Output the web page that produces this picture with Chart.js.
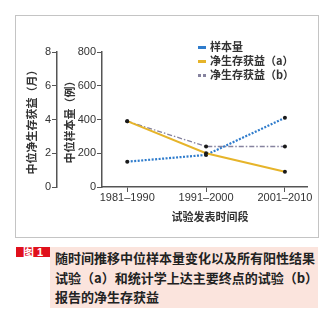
<!DOCTYPE html>
<html>
<head>
<meta charset="utf-8">
<script src="https://cdn.jsdelivr.net/npm/chart.js@4"></script>
<style>
  body { margin: 0; width: 334px; height: 323px; background: #fff; position: relative; overflow: hidden; }
  #frame { position: absolute; left: 15px; top: 15px; width: 304px; height: 223px; box-sizing: border-box; border: 1px solid #c4c4c4; }
  #chart { position: absolute; left: 0; top: 0; }
  #legend { position: absolute; left: 198px; top: 39px; font: bold 11px "Noto Sans CJK SC", sans-serif; color: #333; }
  #legend div { height: 14px; line-height: 14px; white-space: nowrap; }
  #legend span.mark { display: inline-block; width: 8px; height: 3px; margin-right: 4px; vertical-align: middle; position: relative; top: -1px; }
  #tag { position: absolute; left: 16px; top: 247px; width: 34px; height: 10px; background: #e0101c; color: #fff;
         font: bold 11px "Liberation Sans", "Noto Sans CJK SC", sans-serif; line-height: 10px; text-align: center; }
  #caption { position: absolute; left: 50px; top: 247px; width: 268px; height: 61px; box-sizing: border-box; background: #fbe4dd;
             padding: 1px 0 0 5px; font: bold 13px "Noto Sans CJK SC", sans-serif; line-height: 19.5px; color: #222; white-space: nowrap; }
</style>
</head>
<body>
<div id="frame"></div>
<canvas id="chart" width="334" height="240"></canvas>
<div id="legend"></div>
<div id="tag">图 1</div>
<div id="caption">随时间推移中位样本量变化以及所有阳性结果<br>试验（a）和统计学上达主要终点的试验（b）<br>报告的净生存获益</div>
<script>
// data
var periods = ["1981–1990", "1991–2000", "2001–2010"];
var sampleSize = [150, 190, 410];      // 例
var netBenefitA = [3.9, 2.0, 0.9];     // 月
var netBenefitB = [3.9, 2.4, 2.4];     // 月
var monthTicks = [0, 2, 4, 6, 8];
var sampleTicks = [0, 200, 400, 600, 800];

var blue = "#2f7ccc", yellow = "#e6b42a", grey = "#86839f";
var axisColor = "#555", dot = "#1a1a1a";
var cjk = "'Noto Sans CJK SC', sans-serif";

function pts(arr) { return arr.map(function (v, i) { return { x: i, y: v }; }); }

function series(label, values, axis, color, width, dash) {
  return {
    label: label,
    data: pts(values),
    yAxisID: axis,
    borderColor: color,
    backgroundColor: color,
    borderWidth: width,
    borderDash: dash,
    pointRadius: 2,
    pointBackgroundColor: dot,
    pointBorderColor: dot,
    pointBorderWidth: 0,
    fill: false
  };
}

var chart = new Chart(document.getElementById("chart"), {
  type: 'line',
  data: {
    datasets: [
      series("净生存获益（a）", netBenefitA, 'yMonths', yellow, 2, []),
      series("净生存获益（b）", netBenefitB, 'yMonths', grey, 1.3, [5, 2, 1.5, 2]),
      series("样本量", sampleSize, 'ySample', blue, 2.2, [2, 1.5])
    ]
  },
  options: {
    responsive: false,
    devicePixelRatio: 1,
    animation: false,
    layout: { padding: { left: 20, right: 27, top: 52, bottom: 17 } },
    elements: { line: { tension: 0 } },
    plugins: { legend: { display: false }, tooltip: { enabled: false } },
    scales: {
      x: {
        type: 'linear',
        min: -0.32,
        max: 2.28,
        afterBuildTicks: function (axis) { axis.ticks = periods.map(function (p, i) { return { value: i }; }); },
        afterFit: function (scale) { scale.height = 36; },
        grid: { drawOnChartArea: false, tickLength: 5, color: axisColor },
        border: { color: axisColor, width: 1.5 },
        ticks: {
          autoSkip: false, maxRotation: 0, padding: -1, color: "#333",
          font: { size: 11, family: "'Liberation Sans', sans-serif" },
          callback: function (v) { return periods[v]; }
        },
        title: {
          display: true, text: "\u3000试验发表时间段", color: "#333",
          font: { size: 11, weight: 'bold', family: cjk },
          padding: { top: 0, bottom: 0 }
        }
      },
      ySample: {
        position: 'left',
        weight: 0,
        min: 0,
        max: 800,
        afterBuildTicks: function (axis) { axis.ticks = sampleTicks.map(function (v) { return { value: v }; }); },
        afterFit: function (scale) { scale.width = 45; },
        grid: { drawOnChartArea: false, tickLength: 5, color: axisColor },
        border: { color: axisColor, width: 1.5 },
        ticks: { padding: 1, color: "#333", font: { size: 11, family: "'Liberation Sans', sans-serif" } },
        title: {
          display: true, text: "中位样本量（例）", color: "#333",
          font: { size: 11, weight: 'bold', family: cjk },
          padding: { top: 6.4, bottom: 0 }
        }
      },
      yMonths: {
        position: 'left',
        weight: 1,
        min: 0,
        max: 8,
        afterBuildTicks: function (axis) { axis.ticks = monthTicks.map(function (v) { return { value: v }; }); },
        afterFit: function (scale) { scale.width = 37; },
        grid: { drawOnChartArea: false, tickLength: 5, color: axisColor },
        border: { color: axisColor, width: 1.5 },
        ticks: { padding: 1, color: "#333", font: { size: 11, family: "'Liberation Sans', sans-serif" } },
        title: {
          display: true, text: "中位净生存获益（月）", color: "#333",
          font: { size: 11, weight: 'bold', family: cjk },
          padding: { top: 5.4, bottom: 0 }
        }
      }
    }
  }
});

// legend in the order of the figure: 样本量, (a), (b)
var legendOrder = [2, 0, 1];
var legendEl = document.getElementById("legend");
legendOrder.forEach(function (idx) {
  var ds = chart.data.datasets[idx];
  var row = document.createElement("div");
  var mark = document.createElement("span");
  mark.className = "mark";
  if (idx === 1) {
    mark.style.background = "repeating-linear-gradient(to right," + ds.borderColor + " 0 3px, transparent 3px 5px)";
  } else {
    mark.style.background = ds.borderColor;
  }
  row.appendChild(mark);
  row.appendChild(document.createTextNode(ds.label));
  legendEl.appendChild(row);
});
</script>
</body>
</html>
